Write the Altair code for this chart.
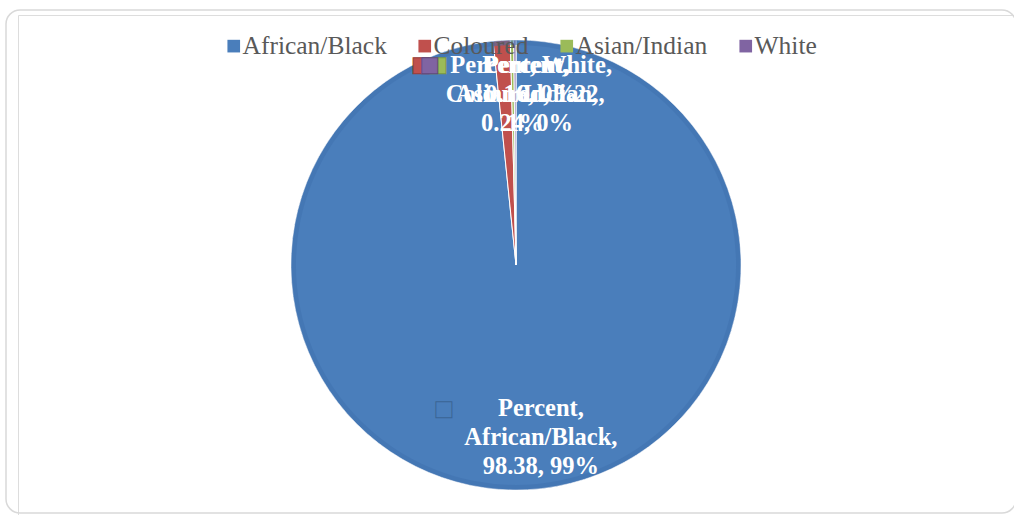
import altair as alt
import pandas as pd

# ---- data ----
categories = ["African/Black", "Coloured", "Asian/Indian", "White"]
values = [98.38, 1.22, 0.24, 0.16]
percent_labels = ["99%", "1%", "0%", "0%"]
series_name = "Percent"
colors = ["#4A7EBB", "#C0504D", "#9BBB59", "#8064A2"]
key_strokes = ["#3A6596", "#9A3B38", "#7A9A42", "#5F4A7E"]

label_texts = [
    f"{series_name},\n{categories[0]},\n{values[0]}, {percent_labels[0]}",
    f"{series_name},\n{categories[1]}, {values[1]},\n{percent_labels[1]}",
    f"{series_name},\n{categories[2]},\n{values[2]}, {percent_labels[2]}",
    f"{series_name}, {categories[3]},\n{values[3]}, {percent_labels[3]}",
]

df = pd.DataFrame({
    "cat": categories,
    "value": values,
    "order": list(range(len(categories))),
    "label": label_texts,
    "kstroke": key_strokes,
})

theta_scale = alt.Scale(domain=[0, 100])
color_scale = alt.Scale(domain=categories, range=colors)

base = alt.Chart(df).encode(
    theta=alt.Theta("value:Q", stack=True, scale=theta_scale),
    order=alt.Order("order:Q", sort="ascending"),
)

pie = base.mark_arc(outerRadius=225, stroke="white", strokeWidth=1).encode(
    color=alt.Color(
        "cat:N",
        scale=color_scale,
        sort=categories,
        legend=alt.Legend(
            title=None,
            orient="none",
            legendX=203,
            legendY=18,
            direction="horizontal",
            columns=4,
            symbolType="square",
            symbolSize=160,
            symbolStrokeWidth=0,
            symbolOpacity=1,
            labelFont="Liberation Serif",
            labelFontSize=25.5,
            labelColor="#595959",
            labelOffset={"expr": "-4"},
            columnPadding=25,
            padding=0,
        ),
    )
)

ring = alt.Chart(pd.DataFrame({"v": [100]})).mark_arc(
    outerRadius=225, innerRadius=220, color="#3F71AE", opacity=0.55
).encode(theta=alt.Theta("v:Q", scale=theta_scale))

FONT = "Liberation Serif"


def label_layer(cat, radius, dx, dy):
    return base.transform_calculate(
        t=f"datum.cat == '{cat}' ? datum.label : ''"
    ).mark_text(
        font=FONT, fontSize=24.5, fontWeight="bold", color="white",
        lineBreak="\n", lineHeight=29, radius=radius, dx=dx, dy=dy,
        align="center", baseline="middle",
    ).encode(text="t:N")


def key_layer(cat, radius, dx, dy):
    return base.transform_calculate(
        t=f"datum.cat == '{cat}' ? '■' : ''"
    ).mark_text(
        font="DejaVu Sans", fontSize=21, strokeWidth=1, radius=radius,
        dx=dx, dy=dy, align="center", baseline="middle",
    ).encode(
        text="t:N",
        color=alt.Color("cat:N", scale=color_scale, legend=None),
        stroke=alt.Stroke("kstroke:N", scale=None),
    )


border = alt.Chart(pd.DataFrame({"a": [0]})).mark_rect(
    filled=False, stroke="#D9D9D9", strokeWidth=1.5, cornerRadius=14
).encode(
    x=alt.value(-12), x2=alt.value(998), y=alt.value(-5), y2=alt.value(498)
)

chart = alt.layer(
    border,
    pie,
    ring,
    key_layer("African/Black", 175, -81, -31),
    label_layer("African/Black", 175, 16, -31),
    key_layer("Coloured", 170, -84, -30),
    key_layer("Asian/Indian", 170, -75, -30),
    key_layer("White", 170, -85.5, -30),
    label_layer("Coloured", 170, 20, -29),
    label_layer("Asian/Indian", 170, 14, -29),
    label_layer("White", 170, 16, -29),
).properties(
    width=996,
    height=500,
    padding={"left": 18, "top": 15, "right": 0, "bottom": 0},
    autosize=alt.AutoSizeParams(type="none"),
).configure_view(stroke=None).configure(background="white")

chart.save("out.html", embed_options={"renderer": "svg", "actions": False})
